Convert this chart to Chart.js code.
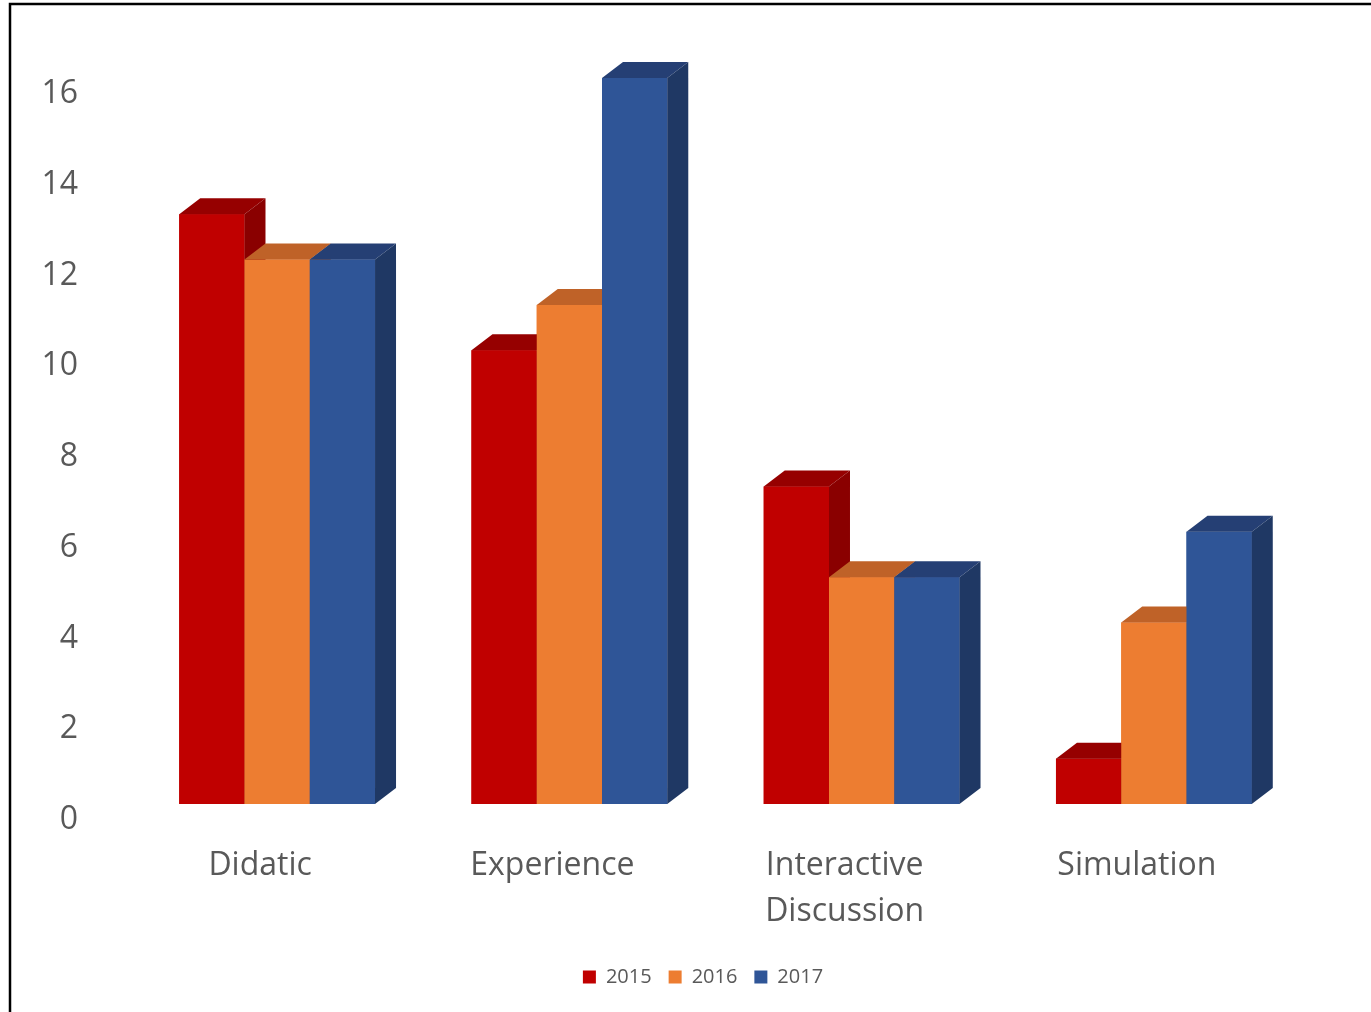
<!DOCTYPE html>
<html>
<head>
<meta charset="utf-8">
<script src="https://cdn.jsdelivr.net/npm/chart.js@4/dist/chart.umd.min.js"></script>
<style>
  html, body { margin: 0; padding: 0; background: #fff; overflow: hidden; }
  #wrap { position: absolute; left: 0; top: 0; width: 1371px; height: 1012px; }
</style>
</head>
<body>
<div id="wrap"><canvas id="chart" width="1371" height="1012"></canvas></div>
<script>
// ===========================
// Data
// ===========================
const CATEGORIES = ['Didatic', 'Experience', ['Interactive', 'Discussion'], 'Simulation'];
const SERIES_NAMES = ['2015', '2016', '2017'];
const VALUES_2015 = [13, 10, 7, 1];
const VALUES_2016 = [12, 11, 5, 4];
const VALUES_2017 = [12, 16, 5, 6];
const Y_TICKS = [0, 2, 4, 6, 8, 10, 12, 14, 16];

// ===========================
// Colours (front / top / side)
// ===========================
const FRONT = ['#C00000', '#ED7D31', '#2F5597'];
const TOP   = ['#960000', '#BF6228', '#253F74'];
const SIDE  = ['#8A0000', '#B35A24', '#1F3864'];
const TEXT_COLOR = '#595959';
const DEPTH_X = 21;
const DEPTH_Y = -16;

// ===========================
// 3D faces plugin
// ===========================
const bars3d = {
  id: 'bars3d',
  afterDatasetsDraw(chart) {
    const ctx = chart.ctx;
    const metas = [0, 1, 2].map(i => chart.getDatasetMeta(i));
    ctx.save();
    for (let j = 0; j < CATEGORIES.length; j++) {
      metas.forEach((meta, i) => {
        const el = meta.data[j];
        const left = el.x - el.width / 2, right = el.x + el.width / 2;
        const top = el.y, base = el.base;
        // front
        ctx.fillStyle = FRONT[i];
        ctx.fillRect(left, top, right - left, base - top);
        // top
        ctx.fillStyle = TOP[i];
        ctx.beginPath();
        ctx.moveTo(left, top);
        ctx.lineTo(left + DEPTH_X, top + DEPTH_Y);
        ctx.lineTo(right + DEPTH_X, top + DEPTH_Y);
        ctx.lineTo(right, top);
        ctx.closePath();
        ctx.fill();
        // side
        ctx.fillStyle = SIDE[i];
        ctx.beginPath();
        ctx.moveTo(right, top);
        ctx.lineTo(right + DEPTH_X, top + DEPTH_Y);
        ctx.lineTo(right + DEPTH_X, base + DEPTH_Y);
        ctx.lineTo(right, base);
        ctx.closePath();
        ctx.fill();
      });
    }
    ctx.restore();
  }
};

// frame lines (top and left)
const frame = {
  id: 'frame',
  afterDraw(chart) {
    const ctx = chart.ctx;
    ctx.save();
    ctx.strokeStyle = '#000';
    ctx.lineWidth = 2.5;
    ctx.beginPath();
    ctx.moveTo(10, 1012);
    ctx.lineTo(10, 4);
    ctx.lineTo(1371, 4);
    ctx.stroke();
    ctx.restore();
  }
};

// ===========================
// Chart
// ===========================
const FONT_FAMILY = '"Open Sans", "Noto Sans", sans-serif';

new Chart(document.getElementById('chart'), {
  type: 'bar',
  data: {
    labels: CATEGORIES,
    datasets: [
      { label: SERIES_NAMES[0], data: VALUES_2015, backgroundColor: FRONT[0] },
      { label: SERIES_NAMES[1], data: VALUES_2016, backgroundColor: FRONT[1] },
      { label: SERIES_NAMES[2], data: VALUES_2017, backgroundColor: FRONT[2] }
    ]
  },
  options: {
    responsive: false,
    animation: false,
    devicePixelRatio: 1,
    layout: { padding: { top: 78, right: 0, bottom: 15, left: 35 } },
    datasets: { bar: { categoryPercentage: 0.67, barPercentage: 1 } },
    plugins: {
      tooltip: { enabled: false },
      legend: {
        position: 'bottom',
        labels: {
          color: TEXT_COLOR,
          font: { family: FONT_FAMILY, size: 20 },
          boxWidth: 13,
          boxHeight: 13,
          padding: 17
        }
      }
    },
    scales: {
      x: {
        grid: { display: false, drawTicks: false },
        border: { display: false },
        ticks: {
          color: TEXT_COLOR,
          font: { family: FONT_FAMILY, size: 32, lineHeight: 1.44 },
          padding: 39,
          labelOffset: -17,
          maxRotation: 0,
          autoSkip: false
        },
        afterFit(scale) { scale.height = 146; }
      },
      y: {
        min: 0,
        max: 16,
        grid: { display: false, drawTicks: false },
        border: { display: false },
        afterBuildTicks(scale) { scale.ticks = Y_TICKS.map(v => ({ value: v })); },
        ticks: {
          color: TEXT_COLOR,
          font: { family: FONT_FAMILY, size: 32 },
          padding: 53,
          labelOffset: 16
        },
        afterFit(scale) { scale.width = 96; }
      },
      // empty right-hand spacer so the legend stays centred on the page
      yRight: {
        position: 'right',
        min: 0,
        max: 16,
        grid: { display: false, drawTicks: false },
        border: { display: false },
        ticks: { display: false },
        afterFit(scale) { scale.width = 71; }
      }
    }
  },
  plugins: [bars3d, frame]
});
</script>
</body>
</html>
